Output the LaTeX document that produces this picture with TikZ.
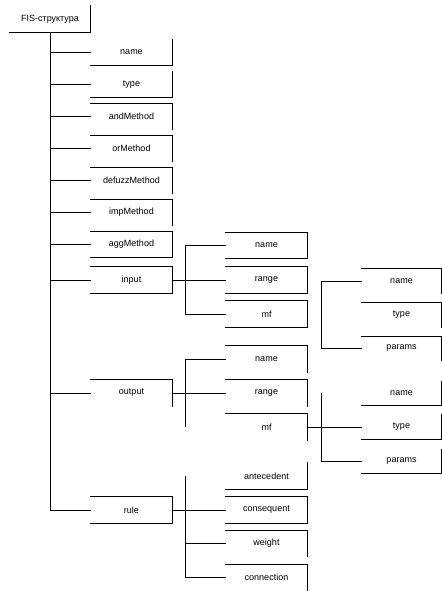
\documentclass[tikz,border=0pt]{standalone}
\usepackage{fontspec}
\setmainfont{Liberation Sans}
\tikzset{
  box/.style={minimum width=81pt, minimum height=26pt, inner sep=0pt, font=\fontsize{9}{11}\selectfont},
  sbox/.style={box, minimum width=80pt, minimum height=24pt},
  edge/.style={line width=0.8pt, line cap=rect}
}
\begin{document}
\begin{tikzpicture}[x=1pt, y=-1pt]
  \useasboundingbox (0,0) rectangle (442,595);
  % root
  \node[box, minimum width=80pt] (fis) at (50,19) {FIS-структура};
  % first level
  \node[box] (name)    at (131.5,52.5)  {name};
  \node[box] (type)    at (131.5,84.5)  {type};
  \node[box] (and)     at (131.5,116.5) {andMethod};
  \node[box] (or)      at (131.5,148.5) {orMethod};
  \node[box] (defuzz)  at (131.5,180.5) {defuzzMethod};
  \node[box] (imp)     at (131.5,212.5) {impMethod};
  \node[box] (agg)     at (131.5,244.5) {aggMethod};
  \node[box] (input)   at (131.5,280)   {input};
  \node[box] (output)  at (131.5,393)   {output};
  \node[box] (rule)    at (131.5,510)   {rule};
  % second level
  \node[box] (inname)  at (266.5,245.5) {name};
  \node[box] (inrange) at (266.5,280)   {range};
  \node[box] (inmf)    at (266.5,314)   {mf};
  \node[box] (outname)  at (266.5,359)  {name};
  \node[box] (outrange) at (266.5,393)  {range};
  \node[box] (outmf)    at (266.5,427)  {mf};
  \node[box] (ant)     at (266.5,476)   {antecedent};
  \node[box] (cons)    at (266.5,510)   {consequent};
  \node[box] (weight)  at (266.5,543.5) {weight};
  \node[box] (conn)    at (266.5,577.5) {connection};
  % third level
  \node[sbox] (inmfname)   at (401.5,281)   {name};
  \node[sbox] (inmftype)   at (401.5,315)   {type};
  \node[sbox] (inmfparams) at (401.5,348.5) {params};
  \node[sbox] (outmfname)   at (401.5,393.5) {name};
  \node[sbox] (outmftype)   at (401.5,427)   {type};
  \node[sbox] (outmfparams) at (401.5,461.5) {params};
  % bus lines
  \coordinate (lvlbus) at (185,0);
  \coordinate (mfbus) at (321,0);
  \begin{scope}[edge]
    % box sides: right and bottom
    \foreach \n in {fis,name,type,ant,outmfname,outmftype,outmfparams}
      \draw (\n.north east) -- (\n.south east) -- (\n.south west);
    % box sides: top and right
    \foreach \n in {and,or,defuzz,imp,output,outname,outrange,outmf,weight,conn,inmfname,inmftype,inmfparams}
      \draw (\n.north west) -- (\n.north east) -- (\n.south east);
    % box sides: top, right and bottom
    \foreach \n in {agg,input,rule,inname,inrange,inmf,cons}
      \draw (\n.north west) -- (\n.north east) -- (\n.south east) -- (\n.south west);
    % main spine
    \draw (fis.south) -- (fis.south |- rule.west) -- (rule.west);
    \foreach \n in {name,type,and,or,defuzz,imp,agg,input,output}
      \draw (\n.west) -- (\n.west -| fis.south);
    % input
    \draw (input.east) -- (inrange.west);
    \draw (inname.west) -- (inname.west -| lvlbus) -- (inmf.west -| lvlbus) -- (inmf.west);
    % output
    \draw (output.east) -- (outrange.west);
    \draw (outname.west) -- (outname.west -| lvlbus) -- (outmf.west -| lvlbus);
    % rule
    \draw (rule.east) -- (cons.west);
    \draw (ant.west -| lvlbus) -- (conn.west -| lvlbus) -- (conn.west);
    \draw (weight.west) -- (weight.west -| lvlbus);
    % mf of input
    \draw (inmfname.west) -- (inmfname.west -| mfbus) -- (inmfparams.west -| mfbus) -- (inmfparams.west);
    % mf of output
    \draw (outmf.east) -- (outmftype.west);
    \draw (outmfname.west -| mfbus) -- (outmfparams.west -| mfbus) -- (outmfparams.west);
  \end{scope}
\end{tikzpicture}
\end{document}
